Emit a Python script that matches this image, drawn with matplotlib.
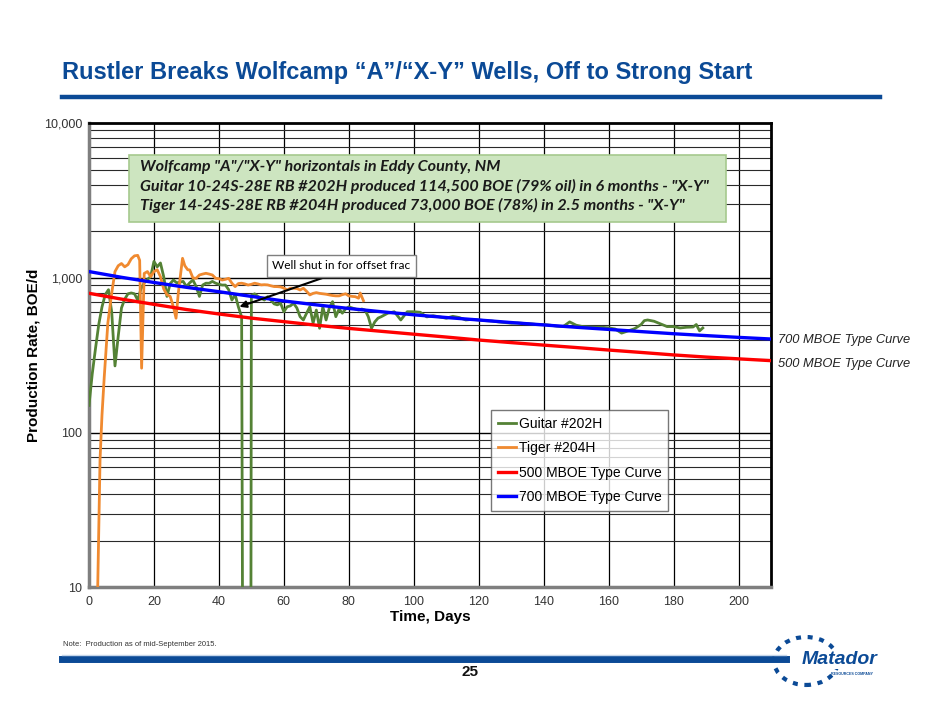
import matplotlib
matplotlib.use("Agg")
import matplotlib.pyplot as plt
from matplotlib import font_manager
from matplotlib.patches import Rectangle, Circle
from matplotlib.ticker import FixedLocator, FuncFormatter, NullFormatter

# ---- data ----
guitar_days = [0, 1, 2, 3, 4, 5, 6, 7, 8, 9, 10, 11, 12, 13, 14, 15, 16, 17, 18, 19,
               20, 21, 22, 23, 24, 25, 26, 27, 28, 29, 30, 31, 32, 33, 34, 35, 36, 37,
               38, 39, 40, 41, 42, 43, 44, 45, 46, 47, 47.4, 49.8, 50, 51, 52, 53, 54,
               55, 56, 57, 58, 59, 60, 61, 62, 63, 64, 65, 66, 67, 68, 69, 70, 71, 72,
               73, 74, 75, 76, 77, 78, 79, 80, 81, 82, 83, 84, 85, 86, 87, 88, 89, 90,
               92, 94, 96, 98, 100, 102, 104, 106, 108, 110, 112, 114, 116, 118, 120,
               122, 124, 126, 128, 130, 132, 134, 136, 138, 140, 142, 144, 146, 148,
               150, 152, 154, 156, 158, 160, 162, 164, 166, 168, 170, 171, 172, 174,
               176, 178, 180, 182, 184, 186, 187, 188, 189]
guitar_rate = [150, 240, 350, 500, 650, 780, 840, 600, 270, 420, 640, 730, 790, 800, 790,
               720, 850, 930, 980, 1020, 1280, 1180, 1250, 1020, 760, 920, 970, 930, 940,
               950, 880, 930, 970, 880, 760, 900, 925, 925, 950, 925, 910, 900, 900, 840,
               720, 780, 650, 560, 1, 1, 770, 790, 760, 740, 720, 757, 720, 680, 670, 686,
               605, 651, 660, 686, 640, 562, 535, 592, 651, 510, 620, 473, 651, 535, 640,
               703, 562, 630, 592, 630, 651, 640, 630, 620, 630, 620, 562, 473, 520, 550,
               562, 592, 605, 535, 605, 605, 600, 560, 570, 560, 549, 565, 555, 535, 540,
               535, 530, 527, 520, 515, 510, 512, 508, 505, 500, 500, 495, 488, 485, 520,
               495, 485, 482, 480, 480, 476, 468, 440, 455, 470, 500, 530, 535, 525, 505,
               485, 485, 475, 480, 482, 500, 455, 475]

tiger_days = [2.6, 3.4, 4, 4.7, 5.8, 7, 8, 9, 10, 11, 12, 13, 14, 15, 15.6, 16.2, 17, 18,
              19, 20, 21, 22, 23, 24, 25, 26, 26.8, 27.5, 28.8, 29.5, 30.4, 31, 32, 33,
              34, 35, 36, 37, 38, 39, 40, 41, 42, 43, 44, 45, 46, 47, 48, 49, 50, 51, 52,
              53, 54, 55, 56, 57, 58, 59, 60, 61, 62, 63, 64, 65, 66, 67, 68, 69, 70, 71,
              72, 73, 74, 75, 76, 77, 78, 79, 80, 81, 82, 83, 83.5, 84.5]
tiger_rate = [8, 67, 130, 230, 510, 800, 1100, 1200, 1240, 1180, 1220, 1330, 1390, 1400,
              1300, 261, 1070, 1100, 1020, 1100, 1130, 1020, 850, 780, 760, 650, 549, 800,
              1340, 1200, 1130, 1127, 1000, 995, 1045, 1060, 1072, 1060, 1045, 995, 990,
              970, 980, 995, 925, 879, 920, 925, 915, 900, 910, 925, 915, 902, 905, 902,
              890, 880, 879, 875, 860, 836, 858, 858, 855, 836, 858, 820, 777, 795, 804,
              795, 790, 785, 777, 770, 766, 766, 780, 790, 766, 760, 757, 740, 800, 713]

curve_days = [0, 10, 20, 30, 40, 50, 60, 70, 80, 90, 100, 110, 120, 130, 140, 150, 160,
              170, 180, 190, 200, 210]
curve_700 = [1100, 1010, 935, 870, 815, 760, 710, 670, 635, 605, 578, 555, 535, 515, 497,
             480, 465, 450, 436, 424, 413, 403]
curve_500 = [796, 730, 675, 625, 585, 550, 522, 495, 472, 452, 433, 415, 397, 382, 368,
             355, 342, 330, 318, 308, 300, 292]

x_ticks = [0, 20, 40, 60, 80, 100, 120, 140, 160, 180, 200]
y_ticks = [10, 100, 1000, 10000]

series_names = ["Guitar #202H", "Tiger #204H", "500 MBOE Type Curve", "700 MBOE Type Curve"]
box_lines = [
    'Wolfcamp "A"/"X-Y" horizontals in Eddy County, NM',
    'Guitar 10-24S-28E RB #202H produced 114,500 BOE (79% oil) in 6 months - "X-Y"',
    'Tiger 14-24S-28E RB #204H produced 73,000 BOE (78%) in 2.5 months - "X-Y"',
]

# ---- fonts ----
installed = {f.name for f in font_manager.fontManager.ttflist}
callout = "Lato" if "Lato" in installed else "DejaVu Sans"
plt.rcParams["font.family"] = ["Liberation Sans", "DejaVu Sans"]

NAVY = "#0b4a96"
W, H = 940, 705


def fx(px):
    return px / W


def fy(py):
    return 1 - py / H


fig = plt.figure(figsize=(9.4, 7.05), dpi=100)
fig.patch.set_facecolor("white")

ax = fig.add_axes([fx(89), fy(587.3), fx(771) - fx(89), fy(123.3) - fy(587.3)])
ax.set_yscale("log")
ax.set_xlim(0, 210)
ax.set_ylim(10, 10000)

# grid
for x in x_ticks[1:]:
    ax.axvline(x, color="black", lw=0.9, zorder=1)
for dec in [10, 100, 1000]:
    for m in range(2, 10):
        ax.axhline(dec * m, color="#2a2a2a", lw=0.8, zorder=1)
    ax.axhline(dec, color="black", lw=1.0, zorder=1)

ax.plot(guitar_days, guitar_rate, color="#548235", lw=2.0, label=series_names[0], zorder=3)
ax.plot(tiger_days, tiger_rate, color="#f08a30", lw=2.0, label=series_names[1], zorder=3)
ax.plot(curve_days, curve_500, color="#ff0000", lw=2.4, label=series_names[2], zorder=4)
ax.plot(curve_days, curve_700, color="#0000ff", lw=2.4, label=series_names[3], zorder=4)

ax.xaxis.set_major_locator(FixedLocator(x_ticks))
ax.yaxis.set_major_locator(FixedLocator(y_ticks))
ax.yaxis.set_minor_formatter(NullFormatter())
ax.yaxis.set_major_formatter(FuncFormatter(lambda v, p: f"{int(v):,}"))
ax.tick_params(axis="both", which="both", length=0, labelsize=9, colors="#333333")
ax.tick_params(axis="x", pad=6)
ax.tick_params(axis="y", pad=5)

for side in ["top", "right"]:
    ax.spines[side].set_color("black")
    ax.spines[side].set_linewidth(2.0)
for side in ["left", "bottom"]:
    ax.spines[side].set_color("#7f7f7f")
    ax.spines[side].set_linewidth(2.5)

ax.set_xlabel("Time, Days", fontsize=11, fontweight="bold", labelpad=2)
ax.set_ylabel("Production Rate, BOE/d", fontsize=11, fontweight="bold", labelpad=2)

leg = ax.legend(loc="upper left", bbox_to_anchor=(fx(491), fy(410)), bbox_transform=fig.transFigure,
                fontsize=10, frameon=True, fancybox=False, edgecolor="#555555",
                handlelength=1.3, handletextpad=0.2, labelspacing=0.75, borderpad=0.5,
                borderaxespad=0)
leg.get_frame().set_linewidth(1.0)
leg.set_zorder(6)

# annotation
ax.annotate("Well shut in for offset frac", xy=(46.3, 651), xytext=(77.7, 1196),
            fontsize=8.6, family=[callout, "DejaVu Sans"], ha="center", va="center",
            bbox=dict(boxstyle="square,pad=0.45", fc="white", ec="#7f7f7f", lw=1.0),
            arrowprops=dict(arrowstyle="-|>", color="black", lw=1.5, mutation_scale=10,
                            relpos=(0.5, 0.0), shrinkA=0, shrinkB=0),
            zorder=7)

# call-out box
fig.patches.append(Rectangle((fx(129), fy(222)), fx(726) - fx(129), fy(155) - fy(222),
                             transform=fig.transFigure, fc="#cde5c0", ec="#a6c98e", lw=1.2,
                             zorder=5))
for i, line in enumerate(box_lines):
    fig.text(fx(140), fy(167 + 19 * i), line, fontsize=11.6, fontweight="bold",
             style="italic", family=[callout, "DejaVu Sans"], va="center", ha="left",
             color="#1a1a1a", zorder=6)

# right-hand curve labels
fig.text(fx(778), fy(340), "700 MBOE Type Curve", fontsize=9.3, style="italic", va="center",
         color="#222222")
fig.text(fx(778), fy(364), "500 MBOE Type Curve", fontsize=9.3, style="italic", va="center",
         color="#222222")

# slide furniture
fig.text(fx(62), fy(73), "Rustler Breaks Wolfcamp \u201cA\u201d/\u201cX-Y\u201d Wells, Off to Strong Start",
         fontsize=17, fontweight="bold", color=NAVY, va="center", ha="left")
fig.add_artist(plt.Line2D([fx(62), fx(880)], [fy(97), fy(97)], color=NAVY, lw=3.2))
fig.text(fx(63), fy(645), "Note:  Production as of mid-September 2015.", fontsize=5.5,
         color="#333333", va="center")
fig.add_artist(plt.Line2D([fx(62), fx(786)], [fy(659), fy(659)], color=NAVY, lw=5))
fig.add_artist(plt.Line2D([fx(62), fx(786)], [fy(655), fy(655)], color="#c5d6ea", lw=1))
fig.text(fx(470), fy(672), "25", fontsize=11, fontweight="bold", ha="center", va="center",
         color="#111111")

# logo
fig.patches.append(Circle((fx(806), fy(661)), 0.034, transform=fig.transFigure, fill=False,
                          ec=NAVY, lw=3, ls=(0, (1.2, 1.6)), zorder=5))
fig.text(fx(840), fy(660), "Matador", fontsize=14, fontweight="bold", style="italic",
         color=NAVY, ha="center", va="center", zorder=6,
         bbox=dict(boxstyle="square,pad=0.05", fc="white", ec="none"))
fig.text(fx(852), fy(674), "RESOURCES COMPANY", fontsize=2.6, fontweight="bold",
         color=NAVY, ha="center", va="center", zorder=6)

fig.savefig("out.png", dpi=100)
